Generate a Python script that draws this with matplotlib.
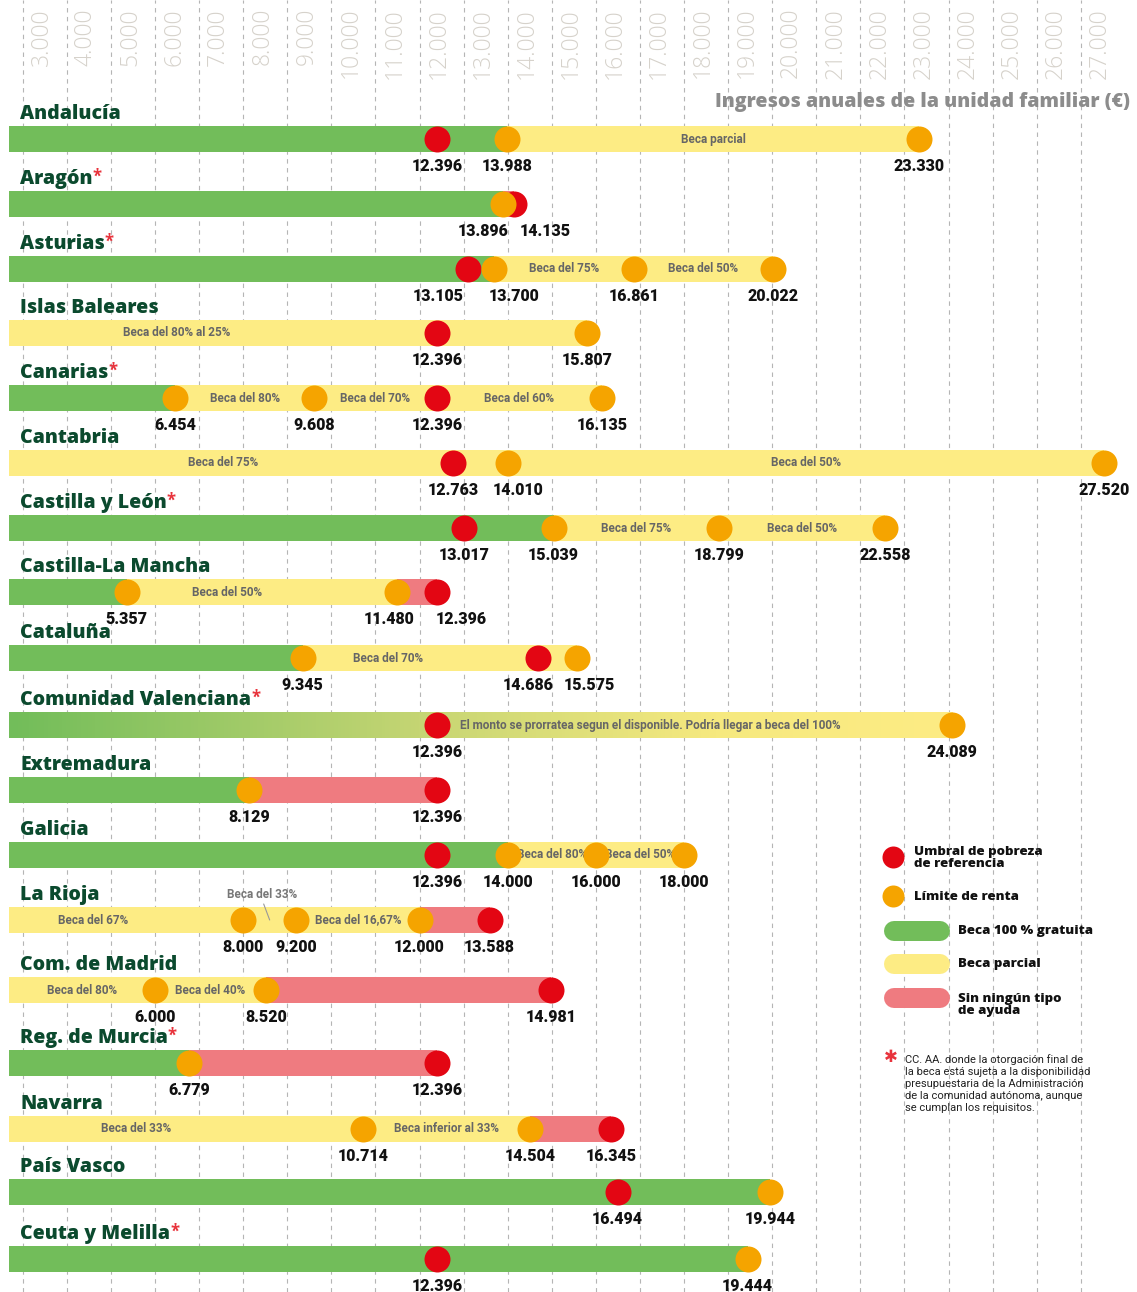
import matplotlib
matplotlib.use("Agg")
import matplotlib.pyplot as plt
import matplotlib.transforms as mtransforms
from matplotlib.colors import LinearSegmentedColormap
import numpy as np

# ---------------- data ----------------
regions = ["Andalucía", "Aragón", "Asturias", "Islas Baleares", "Canarias", "Cantabria",
           "Castilla y León", "Castilla-La Mancha", "Cataluña", "Comunidad Valenciana",
           "Extremadura", "Galicia", "La Rioja", "Com. de Madrid", "Reg. de Murcia",
           "Navarra", "País Vasco", "Ceuta y Melilla"]
starred = [False, True, True, False, True, False, True, False, False, True,
           False, False, False, False, True, False, False, True]

# segments: (end value, kind, label)  kind: g=100% gratuita, y=parcial, r=sin ayuda, gy=prorrateo
segments = [
    [(13988, "g", ""), (23330, "y", "Beca parcial")],
    [(13896, "g", ""), (14135, "r", "")],
    [(13700, "g", ""), (16861, "y", "Beca del 75%"), (20022, "y", "Beca del 50%")],
    [(15807, "y", "Beca del 80% al 25%")],
    [(6454, "g", ""), (9608, "y", "Beca del 80%"), (12396, "y", "Beca del 70%"), (16135, "y", "Beca del 60%")],
    [(14010, "y", "Beca del 75%"), (27520, "y", "Beca del 50%")],
    [(15039, "g", ""), (18799, "y", "Beca del 75%"), (22558, "y", "Beca del 50%")],
    [(5357, "g", ""), (11480, "y", "Beca del 50%"), (12396, "r", "")],
    [(9345, "g", ""), (15575, "y", "Beca del 70%")],
    [(24089, "gy", "El monto se prorratea segun el disponible. Podría llegar a beca del 100%")],
    [(8129, "g", ""), (12396, "r", "")],
    [(14000, "g", ""), (16000, "y", "Beca del 80%"), (18000, "y", "Beca del 50%")],
    [(8000, "y", "Beca del 67%"), (9200, "y", "Beca del 33%"), (12000, "y", "Beca del 16,67%"), (13588, "r", "")],
    [(6000, "y", "Beca del 80%"), (8520, "y", "Beca del 40%"), (14981, "r", "")],
    [(6779, "g", ""), (12396, "r", "")],
    [(10714, "y", "Beca del 33%"), (14504, "y", "Beca inferior al 33%"), (16345, "r", "")],
    [(19944, "g", "")],
    [(19444, "g", "")],
]
poverty = [12396, 14135, 13105, 12396, 12396, 12763, 13017, 12396, 14686, 12396,
           12396, 12396, 13588, 14981, 12396, 16345, 16494, 12396]
limits = [[13988, 23330], [13896], [13700, 16861, 20022], [15807], [6454, 9608, 16135],
          [14010, 27520], [15039, 18799, 22558], [5357, 11480], [9345, 15575], [24089],
          [8129], [14000, 16000, 18000], [8000, 9200, 12000], [6000, 8520], [6779],
          [10714, 14504], [19944], [19444]]
tick_values = list(range(3000, 27001, 1000))
axis_title = "Ingresos anuales de la unidad familiar (€)"
note_text = ("CC. AA. donde la otorgación final de\nla beca está sujeta a la disponibilidad\n"
             "presupuestaria de la Administración\nde la comunidad autónoma, aunque\n"
             "se cumplan los requisitos.")
legend_items = [("dot", "#e30613", "Umbral de pobreza\nde referencia"),
                ("dot", "#f5a400", "Límite de renta"),
                ("pill", "#72bd5a", "Beca 100 % gratuita"),
                ("pill", "#fdec84", "Beca parcial"),
                ("pill", "#ef7b80", "Sin ningún tipo\nde ayuda")]

# ---------------- style / layout ----------------
W, H, DPI = 1137, 1292, 100
COL = {"g": "#72bd5a", "y": "#fdec84", "r": "#ef7b80"}
RED, ORANGE = "#e30613", "#f5a400"
TITLE_C = "#0b4a2e"
BAR_START = 2680
X0, X1 = 2482, 28276
ROW_PX = [139, 204, 269, 333, 398, 463, 528, 592, 658, 725, 790, 855, 920, 990,
          1063, 1129, 1192, 1259]
BAR_H = 26
PT = 0.72  # points per pixel at 100 dpi

NARROW = ["Liberation Sans Narrow", "Roboto"]
HEAD = ["Open Sans", "DejaVu Sans"]

seg_label_frac = {(3, 0): 0.29, (5, 0): 0.43, (7, 1): 0.37, (8, 1): 0.31, (9, 0): 0.68,
                  (12, 0): 0.36, (15, 0): 0.36}
seg_label_above = {(12, 1)}
value_label_dx = {(1, 13896): -20, (1, 14135): 32, (2, 13105): -30, (2, 13700): 20,
                  (5, 14010): 10, (7, 12396): 24, (7, 11480): -8, (8, 14686): -10,
                  (8, 15575): 12}

fig = plt.figure(figsize=(W / DPI, H / DPI), dpi=DPI)
ax = fig.add_axes([0, 0, 1, 1])
ax.set_xlim(X0, X1)
ax.set_ylim(H, 0)
ax.axis("off")

ax2 = fig.add_axes([0, 0, 1, 1], facecolor="none")
ax2.set_xlim(0, W)
ax2.set_ylim(H, 0)
ax2.axis("off")

# grid lines + tick labels
for v in tick_values:
    ax.axvline(v, color="#b5b5b5", lw=0.8, ls=(0, (4, 4)), zorder=0)
blend = mtransforms.blended_transform_factory(ax.transData, ax2.transData)
off = mtransforms.ScaledTranslation(7 / DPI, 0, fig.dpi_scale_trans)
for v in tick_values:
    ax.text(v, 8, f"{v:,}".replace(",", "."), transform=blend + off, rotation=90,
            ha="left", va="top", fontsize=16.5, color="#d6d2cb", family=HEAD,
            fontweight="light", zorder=1)

ax2.text(1130, 102, axis_title, ha="right", va="center", fontsize=14,
         fontweight=800, color="#8c8c8c", family=HEAD)

grad_cmap = LinearSegmentedColormap.from_list(
    "grad", [(0, "#72bd5a"), (0.45, "#c8d674"), (0.75, "#f6e97f"), (1, "#fdec84")])

for i, name in enumerate(regions):
    y = ROW_PX[i]
    t = ax2.text(20, y - 25, name, ha="left", va="center", fontsize=14,
                 fontweight=800, color=TITLE_C, family=HEAD)
    if starred[i]:
        ax2.annotate("*", xy=(1, 1), xycoords=t, xytext=(0, 1), textcoords="offset points",
                     ha="left", va="top", fontsize=12, fontweight="bold", color="#e8333c",
                     family=HEAD)
    # bars
    start = BAR_START
    for k, (end, kind, lab) in enumerate(segments[i]):
        if kind == "gy":
            grad = np.linspace(0, 1, 256).reshape(1, -1)
            ax.imshow(grad, cmap=grad_cmap, aspect="auto",
                      extent=[start, end, y + BAR_H / 2, y - BAR_H / 2], zorder=2,
                      interpolation="bilinear")
        else:
            ax.barh(y, end - start, left=start, height=BAR_H, color=COL[kind], lw=0, zorder=2)
        if lab:
            if (i, k) in seg_label_above:
                cx = (start + end) / 2
                ax.annotate(lab, xy=(cx, y), xytext=(-8 * PT, 26 * PT),
                            textcoords="offset points", ha="center", va="center",
                            fontsize=8.5, fontweight="bold", color="#777777",
                            family=NARROW, zorder=3)
                ax.annotate("", xy=(cx, y), xytext=(-6 * PT, 16 * PT),
                            textcoords="offset points",
                            arrowprops=dict(arrowstyle="-", color="#999999", lw=0.8,
                                            shrinkA=0, shrinkB=0), zorder=3)
            else:
                fr = seg_label_frac.get((i, k), 0.5)
                ax.text(start + fr * (end - start), y, lab, ha="center", va="center",
                        fontsize=8.5, fontweight="bold", color="#666666",
                        family=NARROW, zorder=3)
        start = end
    ax.set_xlim(X0, X1)
    ax.set_ylim(H, 0)
    # dots
    ax.scatter([poverty[i]], [y], s=(BAR_H * PT) ** 2, color=RED, zorder=4, lw=0)
    ax.scatter(limits[i], [y] * len(limits[i]), s=(BAR_H * PT) ** 2, color=ORANGE,
               zorder=5, lw=0)
    # value labels
    for v in sorted([poverty[i]] + limits[i]):
        dx = value_label_dx.get((i, v), 0)
        ax.annotate(f"{v:,}".replace(",", "."), xy=(v, y), xytext=(dx * PT, -27 * PT),
                    textcoords="offset points", ha="center", va="center",
                    fontsize=11.5, fontweight=900, color="#111111", family="Roboto",
                    zorder=6)

# legend
ly = [857, 896, 931, 964, 998]
for (kind, c, lab), yy in zip(legend_items, ly):
    if kind == "dot":
        ax2.scatter([893], [yy], s=(22 * PT) ** 2, color=c, lw=0)
        ax2.text(914, yy + 1, lab, ha="left", va="center", fontsize=9.5,
                 fontweight=800, color="#111111", family=HEAD, linespacing=1.0)
    else:
        ax2.plot([894, 940], [yy, yy], color=c, lw=20 * PT, solid_capstyle="round")
        ax2.text(958, yy + (7 if "\n" in lab else 0), lab, ha="left", va="center",
                 fontsize=9.5, fontweight=800, color="#111111", family=HEAD,
                 linespacing=1.0)

ax2.text(891, 1057, "✱", ha="center", va="center", fontsize=12, color="#e8333c",
         family="DejaVu Sans")
ax2.text(905, 1054, note_text, ha="left", va="top", fontsize=8, color="#222222",
         family=NARROW, linespacing=1.25)

fig.savefig("out.png", dpi=DPI)
